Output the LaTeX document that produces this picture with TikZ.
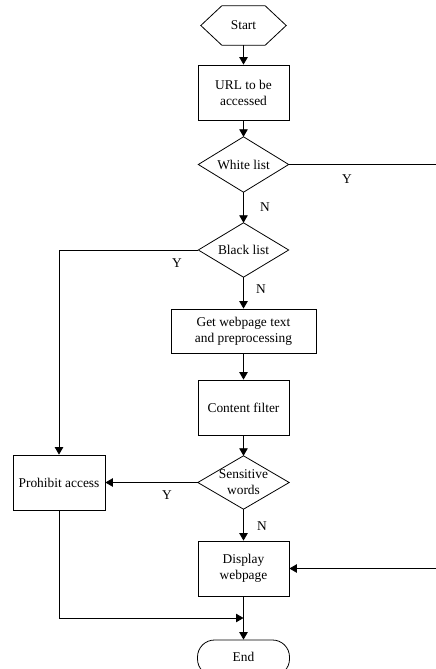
\documentclass[tikz,border=0pt]{standalone}
\usepackage{fontspec}
\setmainfont{Liberation Serif}
\usetikzlibrary{arrows.meta}
\begin{document}
\begin{tikzpicture}[x=1pt,y=-1pt,
  every node/.style={font=\fontsize{13.4}{16}\selectfont, align=center, inner sep=0pt},
  line/.style={line width=0.8pt, draw=black},
  arr/.style={line, -{Triangle[length=7.5pt,width=8.5pt]}},
  box/.style={draw, line width=0.8pt, minimum width=91pt, minimum height=55pt},
  shapebox/.style={minimum width=91pt, minimum height=55pt},
  lbl/.style={font=\fontsize{13.4}{16}\selectfont}]
\useasboundingbox (0,0) rectangle (436,669);
\clip (0,0) rectangle (436,669);
% nodes
\node[shapebox, minimum width=85pt, minimum height=39pt] (start) at (243.5,25.5) {Start};
\node[box] (url) at (243.5,92.5) {URL to be\\accessed};
\node[shapebox, minimum width=90pt] (wl) at (243.5,164.5) {White list};
\node[shapebox, minimum width=90pt, minimum height=54pt] (bl) at (243.5,250) {Black list};
\node[box, minimum width=145pt, minimum height=44pt] (get) at (243.5,331) {Get webpage text\\and preprocessing};
\node[box] (cf) at (243.5,407.5) {Content filter};
\node[shapebox, minimum height=53pt] (sw) at (243.5,482.5) {Sensitive\\words};
\node[box, minimum width=92pt] (pa) at (59,482.5) {Prohibit access};
\node[box] (disp) at (243.5,568.5) {Display\\webpage};
\node[draw, line width=0.8pt, minimum width=92pt, minimum height=36pt, rounded corners=17pt] (end) at (243.5,658) {\raisebox{3pt}{End}};
\coordinate (wlout) at (436,164.5);
\coordinate (dispin) at (436,568.5);
\coordinate (join) at (243.5,618);
% outlines
\draw[line] (start.west) -- ([xshift=21pt]start.north west) -- ([xshift=-21pt]start.north east)
  -- (start.east) -- ([xshift=-21pt]start.south east) -- ([xshift=21pt]start.south west) -- cycle;
\foreach \d in {wl,bl,sw}
  \draw[line] (\d.west) -- (\d.north) -- (\d.east) -- (\d.south) -- cycle;
% connectors
\draw[arr] (start.south) -- (url.north);
\draw[arr] (url.south) -- (wl.north);
\draw[line] (wl.east) -- (wlout);
\draw[arr] (wl.south) -- (bl.north);
\draw[arr] (bl.west) -| (pa.north);
\draw[arr] (bl.south) -- (get.north);
\draw[arr] (get.south) -- (cf.north);
\draw[arr] (cf.south) -- (sw.north);
\draw[arr] (sw.west) -- (pa.east);
\draw[arr] (sw.south) -- (disp.north);
\draw[arr] (dispin) -- (disp.east);
\draw[arr] (disp.south) -- (end.north);
\draw[arr] (pa.south) |- (join);
% labels
\node[lbl] (y1) at (347,179) {Y};
\node[lbl] (n1) at (265,207) {N};
\node[lbl] (y2) at (177,263) {Y};
\node[lbl] (n2) at (261,289) {N};
\node[lbl] (y3) at (167,495) {Y};
\node[lbl] (n3) at (262,526) {N};
\end{tikzpicture}
\end{document}
